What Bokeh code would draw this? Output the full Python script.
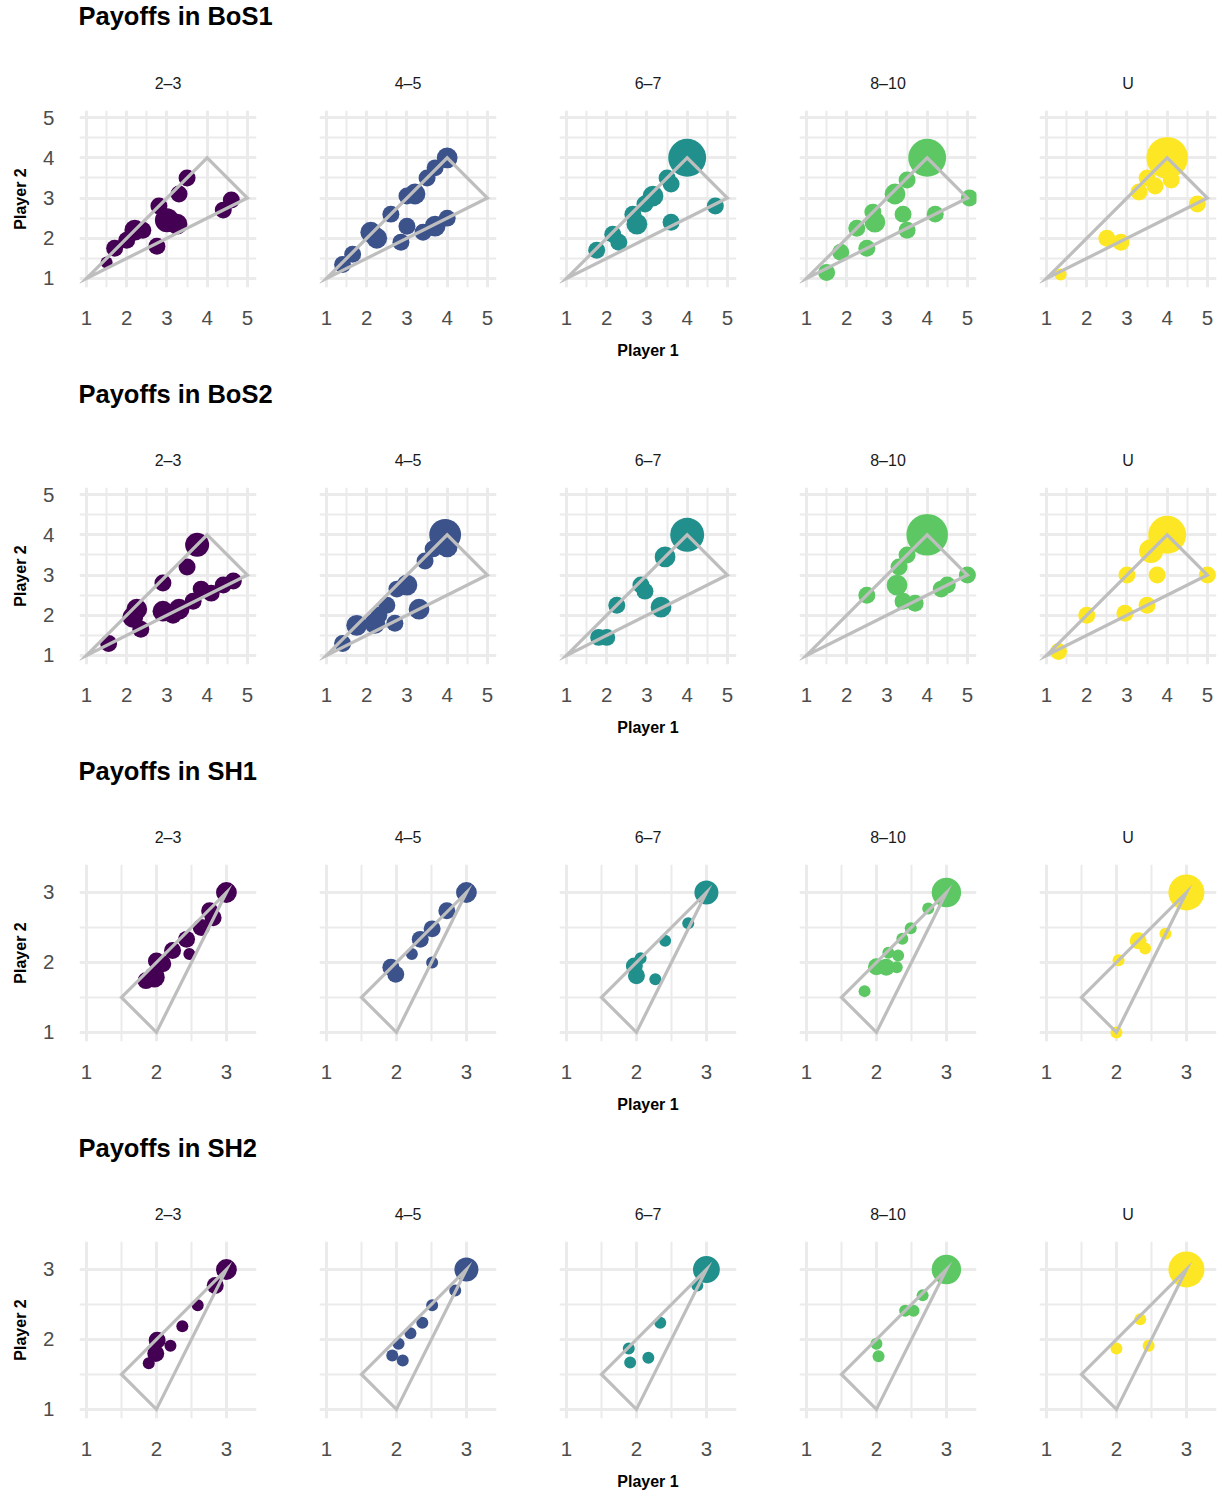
import numpy as np
from bokeh.plotting import figure
from bokeh.layouts import column, row
from bokeh.models import Range1d, FixedTicker, Grid
from bokeh.embed import file_html
from bokeh.resources import INLINE

# ---------------- data ----------------
GAMES = ["BoS1", "BoS2", "SH1", "SH2"]
GROUPS = ["2–3", "4–5", "6–7", "8–10", "U"]
COLORS = ["#440154", "#3B528B", "#21908C", "#5DC863", "#FDE725"]

BOS_TICKS = [1, 2, 3, 4, 5]
BOS_MINOR = [1.5, 2.5, 3.5, 4.5]
SH_TICKS = [1, 2, 3]
SH_MINOR = [1.5, 2.5]

BOS_POLY_X = [1, 4, 5]
BOS_POLY_Y = [1, 4, 3]
SH_POLY_X = [1.5, 3, 2]
SH_POLY_Y = [1.5, 3, 1]

# BoS1
BOS1_23_X = [1.5, 1.7, 2.0, 2.2, 2.4, 2.75, 2.8, 3.0, 3.25, 3.3, 3.5, 4.4, 4.6]
BOS1_23_Y = [1.4, 1.75, 1.95, 2.2, 2.2, 1.8, 2.8, 2.45, 2.35, 3.1, 3.5, 2.7, 2.95]
BOS1_23_N = [1, 2, 2, 3, 2, 2, 2, 4, 3, 2, 2, 2, 2]
BOS1_45_X = [1.4, 1.65, 2.1, 2.25, 2.6, 3.0, 3.2, 3.5, 3.7, 4.0, 2.85, 3.0, 3.4, 3.7, 4.0]
BOS1_45_Y = [1.35, 1.6, 2.15, 2.0, 2.6, 3.05, 3.1, 3.5, 3.75, 4.0, 1.9, 2.3, 2.15, 2.3, 2.5]
BOS1_45_N = [2, 2, 3, 3, 2, 2, 3, 2, 2, 3, 2, 2, 2, 3, 2]
BOS1_67_X = [1.75, 2.15, 2.3, 2.65, 2.75, 2.95, 3.15, 3.5, 3.6, 4.0, 3.6, 4.7]
BOS1_67_Y = [1.7, 2.1, 1.9, 2.6, 2.35, 2.85, 3.05, 3.5, 3.35, 4.0, 2.4, 2.8]
BOS1_67_N = [2, 2, 2, 2, 3, 2, 3, 2, 2, 10, 2, 2]
BOS1_810_X = [1.5, 1.85, 2.25, 2.5, 2.65, 2.7, 3.2, 3.5, 3.4, 3.5, 4.0, 4.2, 5.05]
BOS1_810_Y = [1.15, 1.65, 2.25, 1.75, 2.65, 2.4, 3.1, 3.45, 2.6, 2.2, 4.0, 2.6, 3.0]
BOS1_810_N = [2, 2, 2, 2, 2, 3, 3, 2, 2, 2, 10, 2, 2]
BOS1_U_X = [1.35, 2.5, 2.85, 3.3, 3.5, 3.7, 4.1, 4.0, 4.75]
BOS1_U_Y = [1.1, 2.0, 1.9, 3.15, 3.5, 3.3, 3.45, 4.0, 2.85]
BOS1_U_N = [1, 2, 2, 2, 2, 2, 2, 12, 2]

# BoS2
BOS2_23_X = [1.55, 2.15, 2.25, 2.35, 2.9, 3.5, 3.75, 2.9, 3.3, 3.15, 3.65, 3.85, 4.1, 4.4, 4.65]
BOS2_23_Y = [1.3, 1.95, 2.15, 1.65, 2.8, 3.2, 3.75, 2.1, 2.15, 2.0, 2.35, 2.65, 2.55, 2.75, 2.85]
BOS2_23_N = [2, 3, 3, 2, 2, 2, 4, 3, 3, 2, 2, 2, 2, 2, 2]
BOS2_45_X = [1.4, 1.75, 2.2, 2.3, 2.5, 2.75, 3.0, 3.45, 3.65, 3.95, 4.0, 2.7, 3.3]
BOS2_45_Y = [1.3, 1.75, 1.8, 2.0, 2.25, 2.65, 2.75, 3.35, 3.65, 4.0, 3.7, 1.8, 2.15]
BOS2_45_N = [2, 3, 3, 2, 2, 2, 3, 2, 2, 7, 3, 2, 3]
BOS2_67_X = [1.8, 2.0, 2.25, 2.85, 2.95, 3.35, 3.45, 4.0]
BOS2_67_Y = [1.45, 1.45, 2.25, 2.75, 2.6, 2.2, 3.45, 4.0]
BOS2_67_N = [2, 2, 2, 2, 2, 3, 3, 8]
BOS2_810_X = [2.5, 3.25, 3.3, 3.5, 3.4, 3.7, 4.0, 4.35, 4.5, 5.0]
BOS2_810_Y = [2.5, 2.75, 3.2, 3.5, 2.35, 2.3, 4.0, 2.65, 2.75, 3.0]
BOS2_810_N = [2, 3, 2, 2, 2, 2, 12, 2, 2, 2]
BOS2_U_X = [1.3, 2.0, 2.95, 3.5, 3.0, 3.75, 3.6, 4.0, 5.0]
BOS2_U_Y = [1.1, 2.0, 2.05, 2.25, 3.0, 3.0, 3.6, 4.0, 3.0]
BOS2_U_N = [2, 2, 2, 2, 2, 2, 4, 10, 2]

# SH1
SH1_23_X = [3.0, 2.76, 2.81, 2.64, 2.43, 2.23, 2.09, 2.0, 1.97, 1.85, 2.47]
SH1_23_Y = [3.0, 2.74, 2.64, 2.5, 2.33, 2.17, 1.98, 2.02, 1.79, 1.74, 2.12]
SH1_23_N = [3, 2, 2, 2, 2, 2, 2, 2, 3, 2, 1]
SH1_45_X = [3.0, 2.72, 2.51, 2.34, 2.22, 1.92, 1.99, 2.51]
SH1_45_Y = [3.0, 2.74, 2.48, 2.33, 2.12, 1.93, 1.83, 2.0]
SH1_45_N = [3, 2, 2, 2, 1, 2, 2, 1]
SH1_67_X = [3.0, 2.74, 2.41, 2.06, 1.97, 2.0, 2.27]
SH1_67_Y = [3.0, 2.56, 2.31, 2.06, 1.95, 1.81, 1.76]
SH1_67_N = [4, 1, 1, 1, 2, 2, 1]
SH1_810_X = [3.0, 2.74, 2.49, 2.37, 2.17, 2.0, 2.14, 2.31, 2.29, 1.83]
SH1_810_Y = [3.0, 2.77, 2.49, 2.34, 2.14, 1.94, 1.93, 2.1, 1.93, 1.59]
SH1_810_N = [6, 1, 1, 1, 1, 2, 2, 1, 1, 1]
SH1_U_X = [3.0, 2.7, 2.31, 2.41, 2.03, 2.0]
SH1_U_Y = [3.0, 2.41, 2.31, 2.2, 2.03, 1.0]
SH1_U_N = [9, 1, 2, 1, 1, 1]

# SH2
SH2_23_X = [3.0, 2.84, 2.59, 2.37, 2.2, 2.01, 1.99, 1.89]
SH2_23_Y = [3.0, 2.77, 2.49, 2.19, 1.91, 1.99, 1.8, 1.66]
SH2_23_N = [3, 2, 1, 1, 1, 2, 2, 1]
SH2_45_X = [3.0, 2.84, 2.51, 2.37, 2.2, 2.03, 1.94, 2.09]
SH2_45_Y = [3.0, 2.7, 2.49, 2.24, 2.09, 1.94, 1.77, 1.7]
SH2_45_N = [4, 1, 1, 1, 1, 1, 1, 1]
SH2_67_X = [3.0, 2.87, 2.34, 1.89, 1.91, 2.17]
SH2_67_Y = [3.0, 2.77, 2.24, 1.87, 1.67, 1.74]
SH2_67_N = [5, 1, 1, 1, 1, 1]
SH2_810_X = [3.0, 2.66, 2.41, 2.53, 2.0, 2.03]
SH2_810_Y = [3.0, 2.63, 2.41, 2.41, 1.94, 1.76]
SH2_810_N = [6, 1, 1, 1, 1, 1]
SH2_U_X = [3.0, 2.34, 2.46, 2.0]
SH2_U_Y = [3.0, 2.29, 1.91, 1.87]
SH2_U_N = [9, 1, 1, 1]

PANELS = {
    "BoS1": [(BOS1_23_X, BOS1_23_Y, BOS1_23_N), (BOS1_45_X, BOS1_45_Y, BOS1_45_N),
             (BOS1_67_X, BOS1_67_Y, BOS1_67_N), (BOS1_810_X, BOS1_810_Y, BOS1_810_N),
             (BOS1_U_X, BOS1_U_Y, BOS1_U_N)],
    "BoS2": [(BOS2_23_X, BOS2_23_Y, BOS2_23_N), (BOS2_45_X, BOS2_45_Y, BOS2_45_N),
             (BOS2_67_X, BOS2_67_Y, BOS2_67_N), (BOS2_810_X, BOS2_810_Y, BOS2_810_N),
             (BOS2_U_X, BOS2_U_Y, BOS2_U_N)],
    "SH1": [(SH1_23_X, SH1_23_Y, SH1_23_N), (SH1_45_X, SH1_45_Y, SH1_45_N),
            (SH1_67_X, SH1_67_Y, SH1_67_N), (SH1_810_X, SH1_810_Y, SH1_810_N),
            (SH1_U_X, SH1_U_Y, SH1_U_N)],
    "SH2": [(SH2_23_X, SH2_23_Y, SH2_23_N), (SH2_45_X, SH2_45_Y, SH2_45_N),
            (SH2_67_X, SH2_67_Y, SH2_67_N), (SH2_810_X, SH2_810_Y, SH2_810_N),
            (SH2_U_X, SH2_U_Y, SH2_U_N)],
}

# ---------------- style ----------------
FONT = "Liberation Sans"
GRID_COL = "#EBEBEB"
POLY_COL = "#BEBEBE"
FRAME = 177
TOTAL_W = 1217


def size_scale(n):
    # area-proportional size scale (diameter in px)
    return 12.0 * np.sqrt(np.asarray(n, dtype=float))


def make_title_fig(text, height, standoff):
    t = figure(width=TOTAL_W, height=height, output_backend="svg", toolbar_location=None,
               x_axis_location=None, y_axis_location=None, title=text,
               x_range=Range1d(0, 1), y_range=Range1d(0, 1),
               min_border=0, min_border_left=78, min_border_right=0,
               min_border_top=0, min_border_bottom=0)
    t.grid.visible = False
    t.outline_line_color = None
    t.title.text_font = FONT
    t.title.text_font_size = "25.5px"
    t.title.text_font_style = "bold"
    t.title.text_color = "black"
    t.title.align = "left"
    t.title.vertical_align = "top"
    t.title.standoff = standoff
    t.title.offset = 0
    return t


def make_panel(game, col, last_row):
    is_bos = game.startswith("BoS")
    ticks = BOS_TICKS if is_bos else SH_TICKS
    minor = BOS_MINOR if is_bos else SH_MINOR
    if is_bos:
        xr, yr = (0.826, 5.226), (0.776, 5.176)
        px, py = BOS_POLY_X, BOS_POLY_Y
    else:
        xr, yr = (0.9, 3.43), (0.87, 3.4)
        px, py = SH_POLY_X, SH_POLY_Y

    left = 79 if col == 0 else 32
    right = 1 if col == 4 else 31
    bottom = 75 if last_row else 92

    p = figure(frame_width=FRAME, frame_height=FRAME,
               x_range=Range1d(*xr), y_range=Range1d(*yr),
               output_backend="svg", toolbar_location=None,
               x_axis_location="below",
               y_axis_location="left" if col == 0 else None,
               min_border_left=left, min_border_right=right,
               min_border_top=66, min_border_bottom=bottom,
               title=GROUPS[col])
    p.outline_line_color = None
    p.background_fill_color = "white"
    p.border_fill_color = "white"
    p.grid.visible = False
    for dim in (0, 1):
        g = Grid(dimension=dim, ticker=FixedTicker(ticks=ticks, minor_ticks=minor),
                 grid_line_color=GRID_COL, grid_line_width=3.0,
                 minor_grid_line_color=GRID_COL, minor_grid_line_width=2.0,
                 level="underlay")
        p.add_layout(g)

    # facet strip label
    p.title.text_font = FONT
    p.title.text_font_size = "16px"
    p.title.text_font_style = "normal"
    p.title.text_color = "#1A1A1A"
    p.title.align = "center"
    p.title.vertical_align = "bottom"
    p.title.standoff = 38

    ax = p.xaxis[0]
    ax.ticker = FixedTicker(ticks=ticks)
    ax.axis_line_color = None
    ax.major_tick_line_color = None
    ax.minor_tick_line_color = None
    ax.major_tick_out = 0
    ax.major_tick_in = 0
    ax.major_label_standoff = 23
    ax.major_label_text_font = FONT
    ax.major_label_text_font_size = "20.5px"
    ax.major_label_text_color = "#4D4D4D"
    if col == 2:
        ax.axis_label = "Player 1"
        ax.axis_label_standoff = 14
        ax.axis_label_text_font = FONT
        ax.axis_label_text_font_size = "16px"
        ax.axis_label_text_font_style = "bold"
        ax.axis_label_text_color = "black"

    if col == 0:
        ay = p.yaxis[0]
        ay.ticker = FixedTicker(ticks=ticks)
        ay.axis_line_color = None
        ay.major_tick_line_color = None
        ay.minor_tick_line_color = None
        ay.major_tick_out = 0
        ay.major_tick_in = 0
        ay.major_label_standoff = 25
        ay.major_label_text_font = FONT
        ay.major_label_text_font_size = "20.5px"
        ay.major_label_text_color = "#4D4D4D"
        ay.axis_label = "Player 2"
        ay.axis_label_standoff = 11
        ay.axis_label_text_font = FONT
        ay.axis_label_text_font_size = "16px"
        ay.axis_label_text_font_style = "bold"
        ay.axis_label_text_color = "black"

    xs, ys, ns = PANELS[game][col]
    p.scatter(x=xs, y=ys, size=size_scale(ns), marker="circle",
              fill_color=COLORS[col], line_color=None)
    p.patch(x=px, y=py, fill_color=None, line_color=POLY_COL,
            line_width=3.2, line_join="miter")
    return p


blocks = []
for gi, game in enumerate(GAMES):
    if gi == 0:
        blocks.append(make_title_fig("Payoffs in " + game, 44, 2))
    else:
        blocks.append(make_title_fig("Payoffs in " + game, 42, 0))
    blocks.append(row(*[make_panel(game, c, gi == len(GAMES) - 1) for c in range(5)]))

layout = column(*blocks)
with open("out.html", "w", encoding="utf-8") as f:
    f.write(file_html(layout, INLINE))
